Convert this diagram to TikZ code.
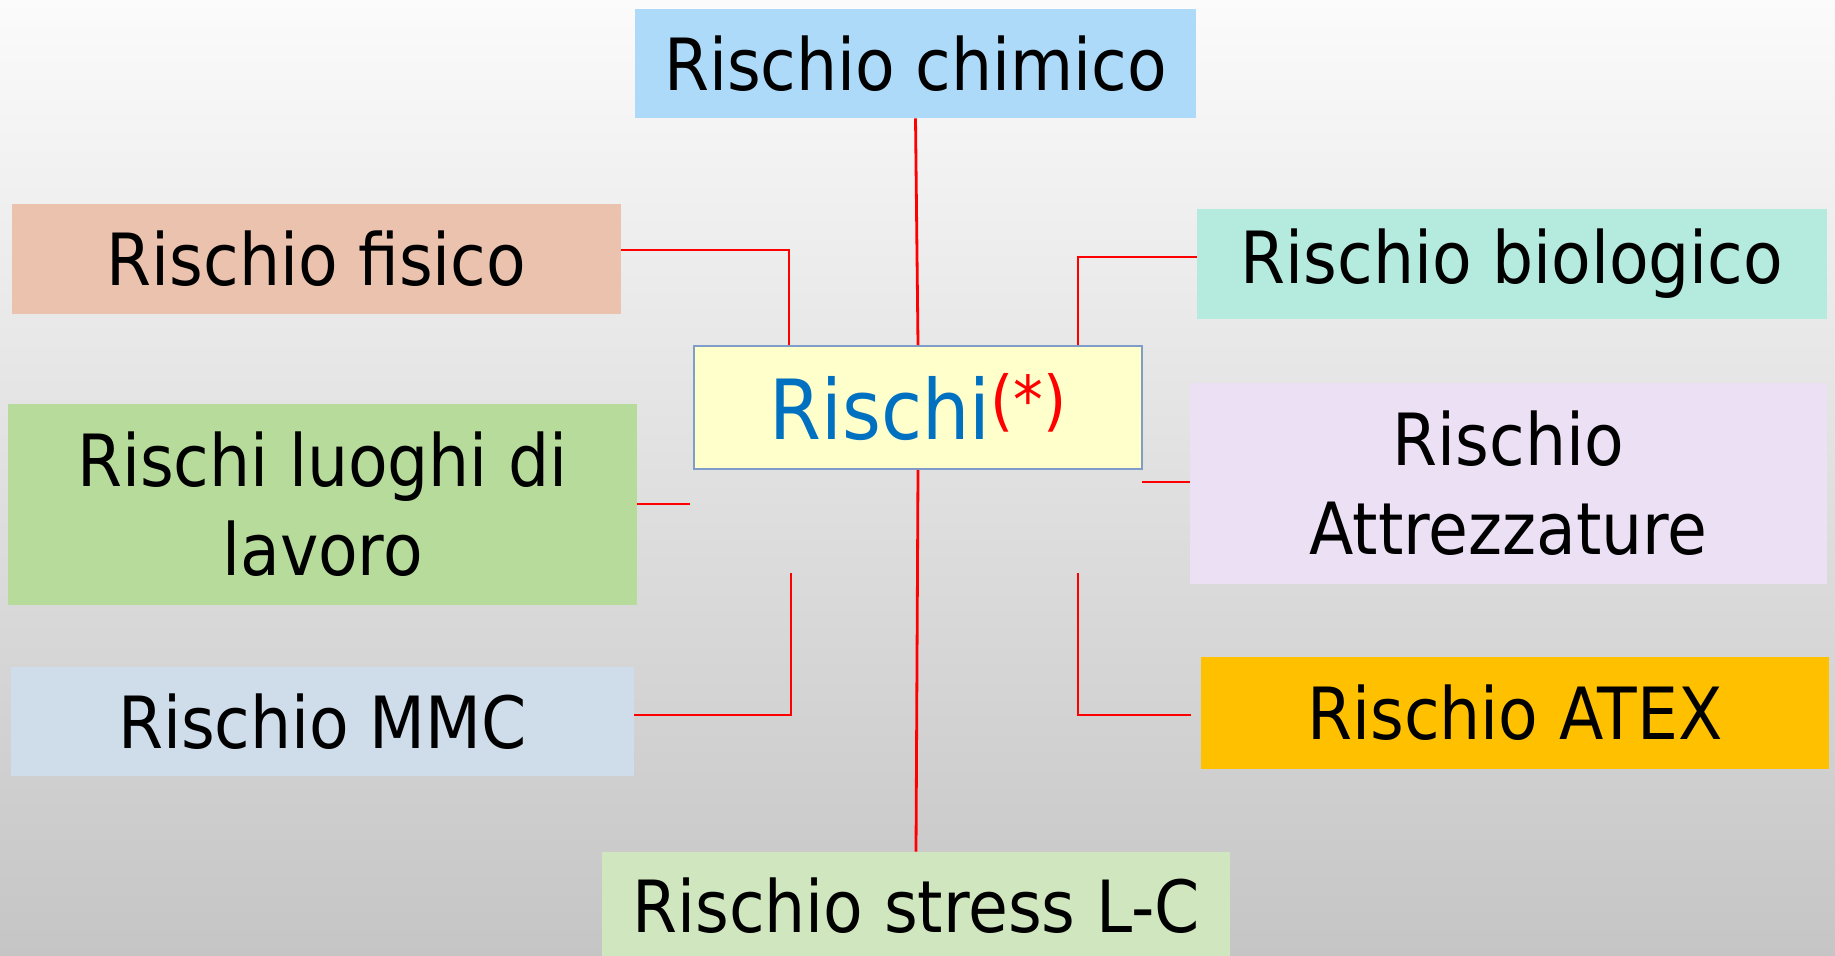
\documentclass[tikz,border=0pt]{standalone}
\usepackage{fontspec}
\setmainfont{DejaVu Sans Condensed}
\definecolor{bgtop}{RGB}{251,251,251}
\definecolor{bgbot}{RGB}{197,197,197}
\definecolor{cchim}{RGB}{173,218,248}
\definecolor{cfis}{RGB}{235,194,174}
\definecolor{cbio}{RGB}{181,234,222}
\definecolor{cluo}{RGB}{183,219,155}
\definecolor{catt}{RGB}{236,224,245}
\definecolor{cmmc}{RGB}{207,220,233}
\definecolor{catex}{RGB}{255,192,0}
\definecolor{cstr}{RGB}{208,230,190}
\definecolor{ccen}{RGB}{255,255,204}
\definecolor{ccenb}{RGB}{127,157,200}
\definecolor{cblue}{RGB}{0,112,192}
\definecolor{cred}{RGB}{255,0,0}
\newcommand{\lowr}[1]{\raisebox{-1.8pt}{#1}}
\begin{document}
\begin{tikzpicture}[x=0.5pt,y=-0.5pt,
  riskbox/.style={draw=none,inner sep=0pt,align=center,text=black,
    font=\fontsize{36}{44.5}\selectfont},
  conn/.style={draw=cred,line width=1.4pt}]
\useasboundingbox (0,0) rectangle (1835,956);
\shade[top color=bgtop,bottom color=bgbot] (0,0) rectangle (1835,956);
% boxes
\node[riskbox,fill=cchim,minimum width=280.5pt,minimum height=54.5pt] (chim) at (915.5,63.5) {\lowr{Rischio chimico}};
\node[riskbox,fill=cfis,minimum width=304.5pt,minimum height=55pt] (fis) at (316.5,259) {\lowr{Rischio fisico}};
\node[riskbox,fill=cbio,minimum width=315pt,minimum height=55pt] (bio) at (1512,264) {\lowr{Rischio biologico}};
\node[riskbox,fill=cluo,minimum width=314.5pt,minimum height=100.5pt,yshift=0pt] (luo) at (322.5,504.5) {Rischi luoghi di\\lavoro};
\node[riskbox,fill=catt,minimum width=318.5pt,minimum height=100.5pt] (att) at (1508.5,483.5) {Rischio\\Attrezzature};
\node[riskbox,fill=cmmc,minimum width=311.5pt,minimum height=54.5pt] (mmc) at (322.5,721.5) {\lowr{Rischio MMC}};
\node[riskbox,fill=catex,minimum width=314pt,minimum height=56pt] (atex) at (1515,713) {\lowr{Rischio ATEX}};
\node[riskbox,fill=cstr,minimum width=314pt,minimum height=54pt] (str) at (916,906) {\lowr{Rischio stress L-C}};
\node[draw=ccenb,line width=1pt,fill=ccen,inner sep=0pt,minimum width=224pt,minimum height=61.5pt] (cen) at (918,407.5)
  {{\fontsize{41.5}{50}\selectfont\color{cblue}Rischi}\raisebox{8pt}{\fontsize{33}{33}\selectfont\color{cred}(*)}};
% coordinates
\coordinate (f1) at (789,250);
\coordinate (b1) at (1078,257);
\coordinate (l1) at (690,504);
\coordinate (a1) at (1142,482);
\coordinate (m1) at (791,715);
\coordinate (m2) at (791,573);
\coordinate (x0) at (1191,715);
\coordinate (x1) at (1078,715);
\coordinate (x2) at (1078,573);
% connectors
\draw[conn] (chim.south) -- (cen.north);
\draw[conn] (cen.south) -- (str.north);
\draw[conn] (fis.east |- f1) -- (f1) -- (f1 |- cen.north);
\draw[conn] (bio.west |- b1) -- (b1) -- (b1 |- cen.north);
\draw[conn] (luo.east |- l1) -- (l1);
\draw[conn] (a1) -- (att.west |- a1);
\draw[conn] (mmc.east |- m1) -- (m1) -- (m2);
\draw[conn] (x2) -- (x1) -- (x0);
\end{tikzpicture}
\end{document}
